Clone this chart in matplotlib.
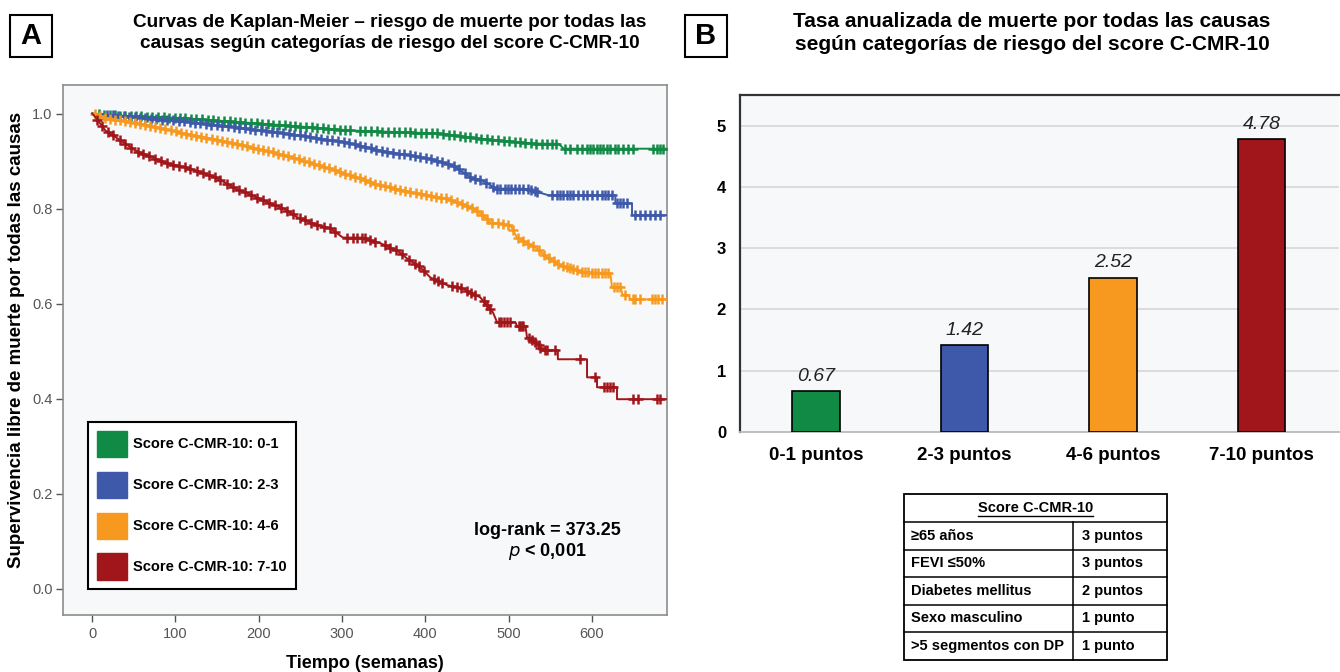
import numpy as np
import matplotlib
matplotlib.use("Agg")
import matplotlib.pyplot as plt
from matplotlib.patches import Patch, Rectangle

plt.rcParams['font.family'] = ['Liberation Sans', 'DejaVu Sans']

# ---------------- data ----------------
groups = ["Score C-CMR-10: 0-1", "Score C-CMR-10: 2-3",
          "Score C-CMR-10: 4-6", "Score C-CMR-10: 7-10"]
colors = ["#118A45", "#3E59AA", "#F7991F", "#A1161B"]

green_t = [0, 16, 112, 232, 313, 418, 466, 529, 560, 566, 690]
green_s = [1.0, 0.997, 0.99, 0.975, 0.964, 0.958, 0.947, 0.937, 0.936, 0.926, 0.926]
green_cens = [8, 14, 21, 27, 33, 40, 47, 53, 59, 66, 72, 79, 86, 92, 99, 105, 112, 119,
              125, 132, 139, 145, 151, 158, 165, 171, 178, 184, 191, 198, 204, 211, 217,
              224, 231, 237, 244, 250, 257, 264, 270, 277, 283, 290, 297, 303, 310, 322,
              328, 335, 342, 348, 355, 362, 368, 375, 381, 388, 395, 401, 408, 414, 421,
              428, 434, 441, 447, 454, 461, 467, 474, 480, 487, 494, 500, 507, 513, 520,
              527, 533, 540, 546, 552, 557, 568, 574, 582, 588, 594, 598, 601, 606, 610,
              613, 618, 622, 628, 631, 637, 643, 649, 673, 678, 682, 685]

blue_t = [0, 16, 112, 226, 306, 346, 406, 433, 454, 469, 478, 484, 518, 529, 540, 548,
          628, 628, 648, 648, 690]
blue_s = [1.0, 0.998, 0.983, 0.96, 0.939, 0.922, 0.905, 0.891, 0.866, 0.859, 0.849,
          0.842, 0.842, 0.838, 0.832, 0.828, 0.828, 0.811, 0.811, 0.786, 0.786]
blue_cens = [18, 25, 31, 38, 44, 51, 57, 64, 71, 77, 84, 90, 97, 104, 110, 117, 123, 130,
             137, 143, 150, 156, 163, 170, 176, 183, 189, 196, 203, 209, 216, 222, 229,
             236, 242, 249, 255, 262, 269, 275, 282, 288, 295, 302, 308, 315, 321, 328,
             335, 341, 348, 354, 361, 368, 374, 381, 387, 394, 401, 407, 414, 420, 427,
             434, 440, 447, 453, 460, 466, 473, 481, 486, 490, 495, 499, 503, 508, 512,
             517, 523, 527, 531, 534, 552, 558, 562, 565, 570, 574, 577, 583, 589, 594,
             600, 606, 612, 616, 619, 624, 630, 634, 637, 642, 652, 658, 664, 670, 676, 682]

orange_t = [0, 16, 52, 112, 172, 232, 265, 306, 346, 385, 426, 454, 466, 478, 490, 502,
            510, 534, 546, 562, 589, 622, 624, 634, 637, 644, 646, 690]
orange_s = [1.0, 0.99, 0.981, 0.958, 0.937, 0.912, 0.895, 0.872, 0.849, 0.834, 0.821,
            0.803, 0.79, 0.771, 0.768, 0.765, 0.739, 0.716, 0.697, 0.681, 0.666, 0.664,
            0.634, 0.634, 0.618, 0.618, 0.609, 0.609]
orange_cens = [3, 9, 15, 21, 27, 33, 39, 45, 52, 58, 64, 70, 76, 82, 88, 95, 101, 107, 113,
               119, 125, 131, 137, 144, 150, 156, 162, 168, 174, 180, 186, 193, 199, 205,
               211, 217, 223, 229, 235, 242, 248, 254, 260, 266, 272, 278, 284, 291, 297,
               303, 309, 315, 321, 327, 333, 340, 346, 352, 358, 364, 370, 376, 382, 389,
               395, 401, 407, 413, 419, 425, 431, 438, 444, 450, 456, 462, 468, 474, 480,
               487, 493, 499, 505, 511, 517, 523, 529, 536, 542, 548, 554, 559, 565, 570,
               574, 577, 582, 588, 592, 595, 600, 604, 607, 612, 616, 619, 626, 630, 633,
               640, 649, 652, 658, 672, 676, 679, 684]

red_t = [0, 4, 16, 31, 52, 72, 91, 112, 132, 151, 172, 192, 211, 230, 246, 265, 286, 301,
         325, 346, 366, 378, 394, 406, 426, 445, 466, 481, 486, 508, 510, 520, 522, 534,
         540, 559, 559, 594, 594, 606, 606, 630, 630, 690]
red_s = [1.0, 0.992, 0.964, 0.947, 0.922, 0.908, 0.895, 0.887, 0.876, 0.863, 0.842, 0.828,
         0.813, 0.800, 0.782, 0.769, 0.758, 0.739, 0.739, 0.727, 0.712, 0.695, 0.676, 0.655,
         0.639, 0.632, 0.613, 0.582, 0.561, 0.561, 0.553, 0.553, 0.529, 0.517, 0.502, 0.502,
         0.483, 0.483, 0.445, 0.445, 0.424, 0.424, 0.399, 0.399]
red_cens = [6, 12, 19, 25, 33, 40, 47, 55, 61, 68, 76, 83, 90, 97, 104, 111, 118, 126, 133,
            140, 147, 154, 162, 169, 176, 183, 191, 198, 205, 212, 220, 227, 234, 241, 249,
            256, 263, 270, 278, 285, 292, 306, 313, 318, 324, 328, 334, 340, 352, 358, 365,
            372, 380, 387, 392, 398, 410, 415, 420, 432, 438, 443, 450, 455, 460, 470, 474,
            478, 488, 491, 494, 498, 502, 512, 514, 516, 517, 524, 528, 532, 536, 538, 543,
            546, 556, 586, 604, 614, 618, 622, 625, 649, 655, 678, 682]

x_ticks = [0, 100, 200, 300, 400, 500, 600]
y_ticks = [0.0, 0.2, 0.4, 0.6, 0.8, 1.0]

bar_labels = ["0-1 puntos", "2-3 puntos", "4-6 puntos", "7-10 puntos"]
bar_values = [0.67, 1.42, 2.52, 4.78]
bar_yticks = [0, 1, 2, 3, 4, 5]

table_header = "Score C-CMR-10"
table_factors = ["≥65 años", "FEVI ≤50%", "Diabetes mellitus", "Sexo masculino",
                 ">5 segmentos con DP"]
table_points = ["3 puntos", "3 puntos", "2 puntos", "1 punto", "1 punto"]

# ---------------- figure ----------------
W, H = 1340, 672
fig = plt.figure(figsize=(W / 100, H / 100), dpi=100)


def px(x0, y0, x1, y1):
    return [x0 / W, 1 - y1 / H, (x1 - x0) / W, (y1 - y0) / H]


BG = "#F7F8FA"

# ---- panel A ----
ax = fig.add_axes(px(63, 85, 667, 615))
ax.set_facecolor(BG)
curves = [(green_t, green_s, green_cens), (blue_t, blue_s, blue_cens),
          (orange_t, orange_s, orange_cens), (red_t, red_s, red_cens)]
for (t, s, c), col in zip(curves, colors):
    ax.plot(t, s, color=col, lw=1.4, zorder=3)
    cy = np.interp(c, t, s)
    ax.plot(c, cy, linestyle="none", marker="+", ms=7.5, mew=1.8, color=col, zorder=3)

ax.set_xlim(-35, 690)
ax.set_ylim(-0.055, 1.06)
ax.set_xticks(x_ticks)
ax.set_yticks(y_ticks)
ax.set_yticklabels([f"{v:.1f}" for v in y_ticks])
for sp in ax.spines.values():
    sp.set_color("#8C8C8C")
    sp.set_linewidth(1.2)
ax.tick_params(axis="both", direction="out", length=5, width=1, color="#555555",
               labelcolor="#555555", labelsize=10.5)
ax.tick_params(axis="y", pad=2.5)
ax.set_xlabel("Tiempo (semanas)", fontsize=13, fontweight="bold", labelpad=10)
fig.text(17 / W, 1 - 340 / H, "Supervivencia libre de muerte por todas las causas",
         rotation=90, ha="center", va="center", fontsize=13.5, fontweight="bold")

handles = [Patch(facecolor=c, edgecolor=c) for c in colors]
leg = ax.legend(handles, groups, loc="upper left",
                bbox_to_anchor=((88 - 63) / 604, (615 - 422) / 530),
                borderaxespad=0, prop={"weight": "bold", "size": 10.5},
                handlelength=2.05, handleheight=2.4, labelspacing=1.0,
                handletextpad=0.45, borderpad=0.6, fancybox=False, framealpha=1,
                facecolor="white", edgecolor="black")
leg.get_frame().set_linewidth(1.5)

ax.text(546, 0.122, "log-rank = 373.25", ha="center", va="center", fontsize=13,
        fontweight="bold")
ax.text(546, 0.078, r"$\it{p}$ < 0,001", ha="center", va="center", fontsize=13,
        fontweight="bold")

# ---- panel B ----
bx = fig.add_axes(px(740, 95, 1339, 432))
bx.set_facecolor(BG)
xpos = np.arange(len(bar_values))
bx.bar(xpos, bar_values, width=0.32, color=colors, edgecolor="black", linewidth=1.2,
       zorder=3)
for xi, v in zip(xpos, bar_values):
    bx.text(xi, v + 0.1, f"{v:.2f}", ha="center", va="bottom", fontsize=14,
            style="italic", color="#222222")
bx.set_xlim(-0.51, 3.52)
bx.set_ylim(0, 5.5)
bx.set_yticks(bar_yticks)
bx.set_xticks(xpos)
bx.set_xticklabels(bar_labels, fontsize=13.5, fontweight="bold")
for lab in bx.get_yticklabels():
    lab.set_fontweight("bold")
    lab.set_fontsize(12)
bx.tick_params(axis="y", length=0, pad=10)
bx.tick_params(axis="x", length=0, pad=11)
bx.yaxis.grid(True, color="#DADADA", lw=1.3, zorder=0)
bx.set_axisbelow(True)
bx.spines["left"].set_color("#333333")
bx.spines["left"].set_linewidth(1.6)
bx.spines["top"].set_color("#333333")
bx.spines["top"].set_linewidth(1.6)
bx.spines["right"].set_visible(False)
bx.spines["bottom"].set_color("#BBBBBB")
bx.spines["bottom"].set_linewidth(1.3)

# ---- table ----
tx = fig.add_axes(px(902, 492, 1169, 662))
tx.set_xlim(902, 1169)
tx.set_ylim(662, 492)
tx.axis("off")
x0, x1, xm = 904, 1167, 1073
row_edges = [494, 522, 549.5, 577, 604.5, 632, 660]
tx.add_patch(Rectangle((x0, row_edges[0]), x1 - x0, row_edges[-1] - row_edges[0],
                       fill=False, ec="black", lw=1.3))
for yy in row_edges[1:-1]:
    tx.plot([x0, x1], [yy, yy], color="black", lw=1.1)
tx.plot([xm, xm], [row_edges[1], row_edges[-1]], color="black", lw=1.1)
hdr = tx.text((x0 + x1) / 2, (row_edges[0] + row_edges[1]) / 2, table_header,
              ha="center", va="center", fontsize=10.5, fontweight="bold")
for i, (f, p) in enumerate(zip(table_factors, table_points)):
    yc = (row_edges[i + 1] + row_edges[i + 2]) / 2
    tx.text(x0 + 7, yc, f, ha="left", va="center", fontsize=10.5, fontweight="bold")
    tx.text(xm + 9, yc, p, ha="left", va="center", fontsize=10.5, fontweight="bold")

# ---- titles & panel letters ----
fig.text(390 / W, 1 - 33 / H,
         "Curvas de Kaplan-Meier – riesgo de muerte por todas las\n"
         "causas según categorías de riesgo del score C-CMR-10",
         ha="center", va="center", fontsize=13.7, fontweight="bold", linespacing=1.35)
fig.text(1032 / W, 1 - 33 / H,
         "Tasa anualizada de muerte por todas las causas\n"
         "según categorías de riesgo del score C-CMR-10",
         ha="center", va="center", fontsize=15, fontweight="bold", linespacing=1.25)
for letter, lx in (("A", 10), ("B", 685)):
    fig.patches.append(Rectangle((lx / W, 1 - 57 / H), 42 / W, 42 / H,
                                 transform=fig.transFigure, fill=False, ec="black",
                                 lw=1.5))
    fig.text((lx + 21) / W, 1 - 36 / H, letter, ha="center", va="center",
             fontsize=21, fontweight="bold")

# underline table header
fig.canvas.draw()
bb = hdr.get_window_extent(fig.canvas.get_renderer())
inv = tx.transData.inverted()
(ux0, uy0), (ux1, uy1) = inv.transform([[bb.x0, bb.y0], [bb.x1, bb.y0]])
tx.plot([ux0, ux1], [uy0 + 0.5, uy1 + 0.5], color="black", lw=1)

fig.savefig("out.png", dpi=100)
